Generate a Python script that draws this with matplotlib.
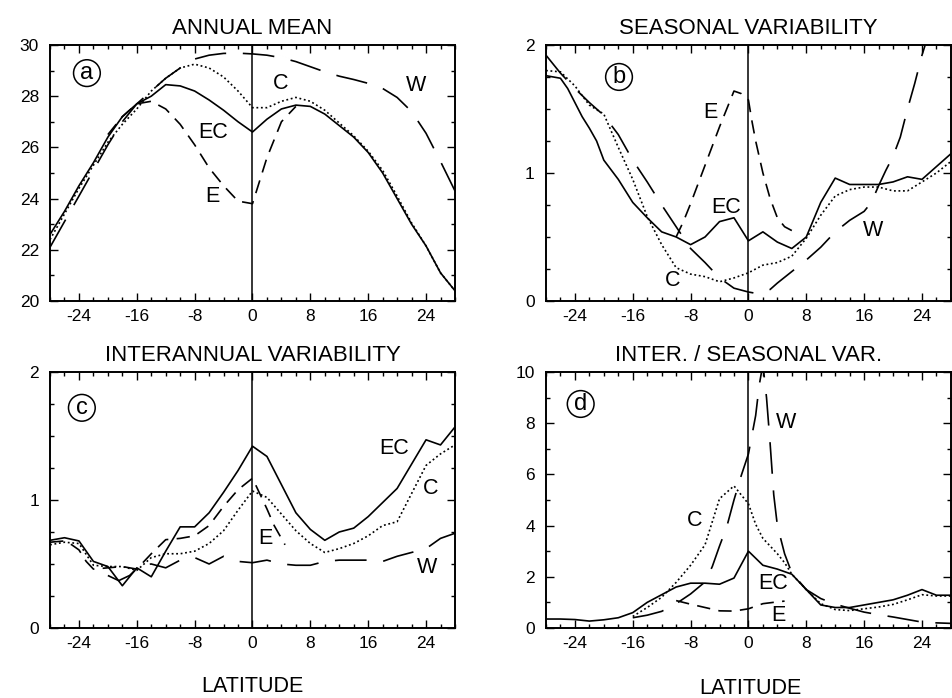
import numpy as np
import matplotlib
matplotlib.use('Agg')
import matplotlib.pyplot as plt
from matplotlib.ticker import MultipleLocator

plt.rcParams['font.family'] = ['Liberation Sans', 'DejaVu Sans']
plt.rcParams['axes.unicode_minus'] = False

# ---------------------------------------------
#               DATA
# ---------------------------------------------
lat2 = list(range(-28, 29, 2))

# (a) annual mean
a_EC = [22.6, 23.5, 24.5, 25.4, 26.4, 27.2, 27.7, 28.0, 28.45, 28.4, 28.2, 27.85, 27.45, 27.0, 26.6,
        27.1, 27.5, 27.65, 27.6, 27.3, 26.85, 26.4, 25.8, 25.0, 24.0, 23.0, 22.15, 21.1, 20.4]
a_C = [22.4, 23.4, 24.4, 25.3, 26.2, 26.9, 27.5, 28.2, 28.7, 29.1, 29.25, 29.1, 28.75, 28.2, 27.55,
       27.55, 27.8, 27.95, 27.8, 27.45, 26.95, 26.45, 25.85, 25.1, 24.1, 23.05, 22.15, 21.1, 20.4]
a_W = [22.1, 23.1, 24.1, 25.1, 26.1, 27.0, 27.7, 28.2, 28.7, 29.1, 29.45, 29.6, 29.67, 29.68, 29.65,
       29.6, 29.5, 29.35, 29.15, 28.95, 28.78, 28.65, 28.5, 28.3, 27.95, 27.4, 26.55, 25.45, 24.3]
a_E_lat = [-20, -18, -16, -14, -12, -10, -8, -6, -4, -2, 0, 2, 4, 6]
a_E = [26.5, 27.2, 27.7, 27.8, 27.5, 26.9, 26.1, 25.2, 24.5, 23.9, 23.8, 25.6, 27.0, 27.6]

# (b) seasonal variability
b_EC_lat = [-28, -26, -25, -24, -23, -22, -21, -20, -18, -16, -14, -12, -10, -8, -6, -4, -2, 0,
            2, 4, 6, 8, 10, 12, 14, 16, 18, 20, 22, 24, 26, 28]
b_EC = [1.76, 1.74, 1.66, 1.55, 1.44, 1.35, 1.25, 1.1, 0.95, 0.77, 0.65, 0.54, 0.5, 0.44, 0.5, 0.62, 0.65, 0.47,
        0.54, 0.46, 0.41, 0.5, 0.77, 0.96, 0.91, 0.91, 0.91, 0.93, 0.97, 0.95, 1.05, 1.15]
b_C = [1.8, 1.79, 1.68, 1.53, 1.46, 1.2, 0.95, 0.66, 0.44, 0.26, 0.21, 0.19, 0.15, 0.18, 0.22,
       0.28, 0.3, 0.35, 0.49, 0.67, 0.82, 0.87, 0.89, 0.89, 0.86, 0.86, 0.93, 1.0, 1.09]
b_W_lat = [-28, -26, -24, -22, -20, -18, -16, -14, -12, -10, -8, -6, -4, -2, 0,
           1, 2, 3, 4, 6, 8, 10, 12, 14, 16, 17, 18, 19, 20, 21, 22, 23, 24, 25]
b_W = [1.92, 1.78, 1.66, 1.55, 1.45, 1.3, 1.1, 0.93, 0.75, 0.58, 0.41, 0.3, 0.18, 0.1, 0.07,
       0.06, 0.07, 0.09, 0.14, 0.23, 0.32, 0.42, 0.54, 0.63, 0.7, 0.77, 0.9, 1.02, 1.13, 1.28, 1.5, 1.7, 1.92, 2.1]
b_E_lat = [-10, -9, -8, -6, -4, -2, -1, 0, 0.5, 1, 2, 3, 4, 5, 6]
b_E = [0.5, 0.62, 0.76, 1.06, 1.36, 1.64, 1.62, 1.57, 1.4, 1.25, 1.0, 0.8, 0.65, 0.58, 0.55]

# (c) interannual variability
c_EC = [0.685, 0.705, 0.68, 0.52, 0.48, 0.33, 0.47, 0.40, 0.6, 0.79, 0.79, 0.9, 1.06, 1.23, 1.42,
        1.34, 1.12, 0.9, 0.77, 0.685, 0.75, 0.78, 0.87, 0.98, 1.09, 1.28, 1.47, 1.43, 1.57]
c_C = [0.65, 0.67, 0.66, 0.49, 0.48, 0.48, 0.45, 0.55, 0.58, 0.58, 0.6, 0.66, 0.76, 0.92, 1.07,
       1.02, 0.89, 0.76, 0.66, 0.59, 0.62, 0.66, 0.72, 0.8, 0.83, 1.05, 1.27, 1.36, 1.43]
c_E_lat = [-28, -26, -25, -24, -23, -22, -20, -18, -16, -14, -12, -10, -8, -6, -4, -2, 0, 1, 2, 3, 4, 4.5]
c_E = [0.67, 0.68, 0.65, 0.61, 0.52, 0.46, 0.47, 0.48, 0.46, 0.58, 0.69, 0.7, 0.72, 0.8, 0.95, 1.08, 1.17,
       1.05, 0.93, 0.8, 0.7, 0.65]
c_W_lat = [-20, -18.5, -17, -15.5, -14, -12, -10, -8, -6, -4, -2, 0,
           2, 4, 6, 8, 10, 12, 14, 16, 18, 20, 22, 24, 26, 28]
c_W = [0.41, 0.37, 0.41, 0.49, 0.5, 0.47, 0.53, 0.55, 0.5, 0.56, 0.52, 0.51,
       0.53, 0.5, 0.49, 0.49, 0.52, 0.53, 0.53, 0.53, 0.52, 0.56, 0.59, 0.62, 0.7, 0.74]

# (d) inter / seasonal ratio
d_EC = [0.35, 0.35, 0.33, 0.27, 0.32, 0.4, 0.6, 1.0, 1.3, 1.6, 1.75, 1.75, 1.71, 1.95, 3.0,
        2.45, 2.3, 2.1, 1.5, 0.9, 0.8, 0.8, 0.9, 1.0, 1.1, 1.28, 1.5, 1.28, 1.28]
d_C_lat = [-16, -14, -12, -10, -8, -6, -4, -2, 0, 1, 2, 4, 5, 6, 8, 10, 12, 14, 16, 18, 20, 22, 24, 26, 28]
d_C = [0.45, 0.8, 1.2, 1.78, 2.45, 3.25, 5.05, 5.55, 4.85, 4.05, 3.5, 2.9, 2.55, 2.1, 1.5, 0.95,
       0.72, 0.68, 0.75, 0.82, 0.92, 1.1, 1.3, 1.25, 1.25]
d_W_lat = [-16, -14, -12, -10, -8, -6, -5, -4, -3, -2, -1, 0, 1, 1.5, 2, 2.5, 3, 3.5, 4, 5, 6,
           8, 10, 12, 14, 16, 18, 20, 22, 24, 26, 28]
d_W = [0.4, 0.5, 0.65, 0.95, 1.33, 1.8, 2.4, 3.2, 3.95, 5.0, 5.95, 6.8, 8.3, 9.5, 10.3, 9.0, 7.2, 5.2, 4.0, 2.9, 2.15,
       1.5, 1.15, 0.93, 0.77, 0.62, 0.52, 0.43, 0.33, 0.23, 0.2, 0.18]
d_E_lat = [-10, -8, -6, -4, -2, 0, 2, 4, 5]
d_E = [1.07, 0.93, 0.8, 0.67, 0.66, 0.75, 0.95, 1.02, 1.05]

# ---------------------------------------------
#               STYLES
# ---------------------------------------------
STY = {
    'EC': dict(ls='-'),
    'C': dict(dashes=(1.1, 1.6)),
    'E': dict(dashes=(8, 5)),
    'W': dict(dashes=(19, 10)),
}
LW = 1.2
LBL = 15.5


def draw(ax, x, y, key):
    ax.plot(x, y, color='black', lw=LW, **STY[key])


def style_axis(ax, ylim, yticks, yminor, title, letter, letter_xy):
    ax.set_xlim(-28, 28)
    ax.set_ylim(*ylim)
    ax.set_xticks([-24, -16, -8, 0, 8, 16, 24])
    ax.xaxis.set_minor_locator(MultipleLocator(2))
    ax.set_yticks(yticks)
    ax.yaxis.set_minor_locator(MultipleLocator(yminor))
    ax.tick_params(which='both', direction='in', top=True, right=True, labelsize=12.5, width=1)
    ax.tick_params(which='major', length=6)
    ax.tick_params(which='minor', length=3)
    ax.tick_params(axis='x', pad=6)
    ax.tick_params(axis='y', pad=8)
    for s in ax.spines.values():
        s.set_linewidth(1.4)
    ax.axvline(0, color='black', lw=1.1)
    ax.set_title(title, fontsize=16, pad=8)
    ax.text(letter_xy[0], letter_xy[1], letter, fontsize=17, ha='center', va='center',
            bbox=dict(boxstyle='circle,pad=0.1', fc='white', ec='black', lw=1.1))


fig = plt.figure(figsize=(9.53, 6.98), dpi=100)
W_AX, H_AX = 0.4249, 0.3668
ax_a = fig.add_axes([0.0525, 0.5688, W_AX, H_AX])
ax_b = fig.add_axes([0.5729, 0.5688, W_AX, H_AX])
ax_c = fig.add_axes([0.0525, 0.1003, W_AX, H_AX])
ax_d = fig.add_axes([0.5729, 0.1003, W_AX, H_AX])

# (a)
draw(ax_a, lat2, a_EC, 'EC')
draw(ax_a, lat2, a_C, 'C')
draw(ax_a, lat2, a_W, 'W')
draw(ax_a, a_E_lat, a_E, 'E')
style_axis(ax_a, (20, 30), [20, 22, 24, 26, 28, 30], 1, 'ANNUAL MEAN', 'a', (-22.9, 28.9))
for s, x, y in [('C', 3.9, 28.5), ('W', 22.6, 28.4), ('EC', -5.4, 26.6), ('E', -5.5, 24.1)]:
    ax_a.text(x, y, s, fontsize=LBL, ha='center', va='center')

# (b)
draw(ax_b, b_EC_lat, b_EC, 'EC')
draw(ax_b, lat2, b_C, 'C')
draw(ax_b, b_W_lat, b_W, 'W')
draw(ax_b, b_E_lat, b_E, 'E')
style_axis(ax_b, (0, 2), [0, 1, 2], 0.25, 'SEASONAL VARIABILITY', 'b', (-17.9, 1.75))
for s, x, y in [('E', -5.2, 1.47), ('EC', -3.1, 0.73), ('C', -10.5, 0.16), ('W', 17.2, 0.55)]:
    ax_b.text(x, y, s, fontsize=LBL, ha='center', va='center')

# (c)
draw(ax_c, lat2, c_EC, 'EC')
draw(ax_c, lat2, c_C, 'C')
draw(ax_c, c_W_lat, c_W, 'W')
draw(ax_c, c_E_lat, c_E, 'E')
style_axis(ax_c, (0, 2), [0, 1, 2], 0.25, 'INTERANNUAL VARIABILITY', 'c', (-23.6, 1.72))
for s, x, y in [('EC', 19.6, 1.40), ('C', 24.7, 1.09), ('E', 1.8, 0.70), ('W', 24.2, 0.47)]:
    ax_c.text(x, y, s, fontsize=LBL, ha='center', va='center')

# (d)
draw(ax_d, lat2, d_EC, 'EC')
draw(ax_d, d_C_lat, d_C, 'C')
draw(ax_d, d_W_lat, d_W, 'W')
draw(ax_d, d_E_lat, d_E, 'E')
style_axis(ax_d, (0, 10), [0, 2, 4, 6, 8, 10], 1, 'INTER. / SEASONAL VAR.', 'd', (-23.2, 8.75))
for s, x, y in [('W', 5.2, 8.03), ('C', -7.5, 4.19), ('EC', 3.4, 1.72), ('E', 4.1, 0.48)]:
    ax_d.text(x, y, s, fontsize=LBL, ha='center', va='center')

fig.text(0.265, 0.016, 'LATITUDE', fontsize=15.5, ha='center', va='center')
fig.text(0.787, 0.014, 'LATITUDE', fontsize=15.5, ha='center', va='center')

fig.savefig('out.png', dpi=100)
